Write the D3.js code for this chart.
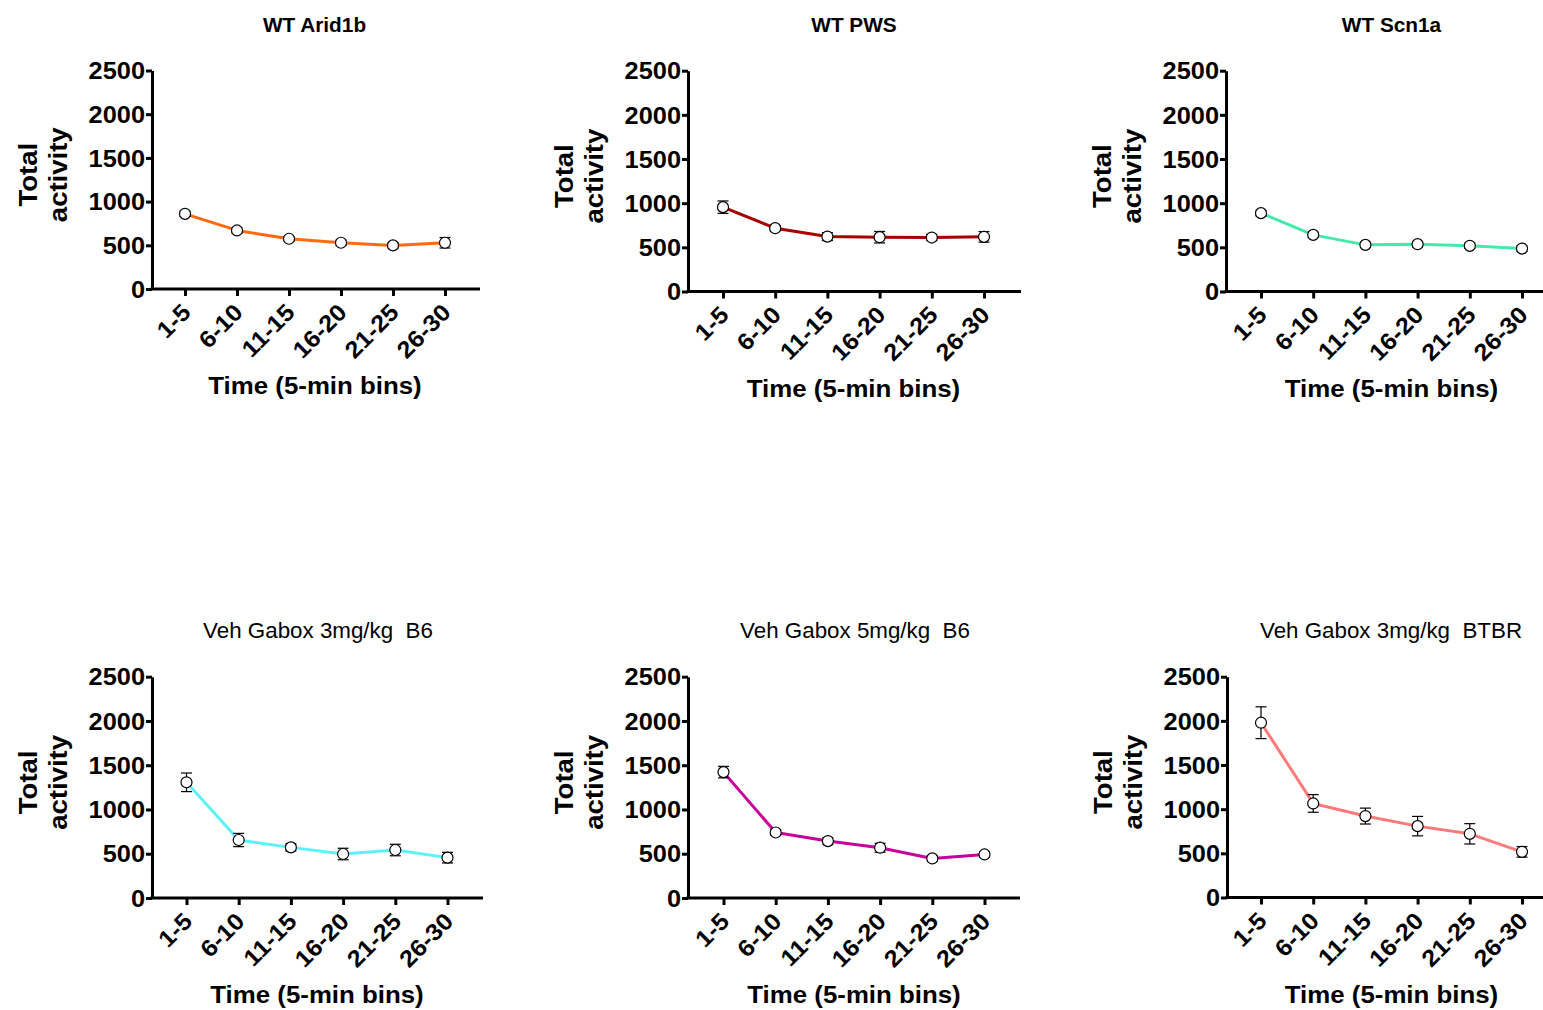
<!DOCTYPE html>
<html>
<head>
<meta charset="utf-8">
<script src="https://cdn.jsdelivr.net/npm/d3@7"></script>
<style>
  html, body { margin: 0; padding: 0; background: #fff; }
  svg { display: block; }
  text { font-family: "Liberation Sans", Arial, Helvetica, sans-serif; white-space: pre; }
</style>
</head>
<body>
<svg id="chart" width="1543" height="1010"></svg>
<script>
// ---- data ----
const categories = ["1-5", "6-10", "11-15", "16-20", "21-25", "26-30"];
const yTickValues = [0, 500, 1000, 1500, 2000, 2500];
const panelTitles = ["WT Arid1b", "WT PWS", "WT Scn1a",
  "Veh Gabox 3mg/kg  B6", "Veh Gabox 5mg/kg  B6", "Veh Gabox 3mg/kg  BTBR"];
const yLabelLines = ["Total", "activity"];
const xLabel = "Time (5-min bins)";

const arid1bMean = [860, 670, 575, 529, 499, 529];
const arid1bSem  = [30, 30, 25, 30, 30, 60];
const pwsMean    = [955, 717, 622, 615, 611, 619];
const pwsSem     = [70, 30, 45, 65, 35, 60];
const scn1aMean  = [887, 641, 528, 536, 517, 486];
const scn1aSem   = [30, 30, 30, 30, 30, 30];
const b6Gabox3Mean = [1307, 655, 572, 497, 542, 456];
const b6Gabox3Sem  = [105, 75, 40, 65, 65, 60];
const b6Gabox5Mean = [1422, 740, 643, 568, 447, 492];
const b6Gabox5Sem  = [65, 30, 40, 50, 30, 30];
const btbrGabox3Mean = [1979, 1065, 922, 808, 721, 517];
const btbrGabox3Sem  = [180, 100, 90, 110, 115, 60];

const seriesMeans = [arid1bMean, pwsMean, scn1aMean, b6Gabox3Mean, b6Gabox5Mean, btbrGabox3Mean];
const seriesSems  = [arid1bSem, pwsSem, scn1aSem, b6Gabox3Sem, b6Gabox5Sem, btbrGabox3Sem];
const seriesColors = ["#ff6a10", "#a80000", "#44eaaa", "#5cf2f8", "#c8009c", "#ff7a7a"];

// ---- layout (pixel geometry of each panel) ----
const layout = [
  {axisX: 152,  xFirst: 185,   xLast: 445,   xEnd: 480,  y0: 289,   yTop: 70.5, titleX: 314.5, titleY: 32, bold: true},
  {axisX: 688,  xFirst: 723,   xLast: 984,   xEnd: 1021, y0: 291.5, yTop: 70.7, titleX: 854,   titleY: 32, bold: true},
  {axisX: 1226, xFirst: 1261,  xLast: 1522,  xEnd: 1560, y0: 291.5, yTop: 70.7, titleX: 1391.5,titleY: 32, bold: true},
  {axisX: 152,  xFirst: 186.5, xLast: 447.5, xEnd: 483,  y0: 898,   yTop: 676.7, titleX: 318,  titleY: 638, bold: false},
  {axisX: 688,  xFirst: 723.5, xLast: 984.5, xEnd: 1020, y0: 898,   yTop: 676.7, titleX: 855,  titleY: 638, bold: false},
  {axisX: 1227, xFirst: 1261,  xLast: 1522,  xEnd: 1560, y0: 897.5, yTop: 676.7, titleX: 1391, titleY: 638, bold: false}
];

const SX = 1.08;           // horizontal stretch of axis text
const axisFont = 23.5;
const svg = d3.select("#chart");

layout.forEach((L, i) => {
  const g = svg.append("g");
  const x = d3.scalePoint().domain(categories).range([L.xFirst, L.xLast]);
  const y = d3.scaleLinear().domain([0, 2500]).range([L.y0, L.yTop]);
  const means = seriesMeans[i], sems = seriesSems[i];
  const pts = categories.map((c, k) => ({c, m: means[k], s: sems[k]}));

  // title
  g.append("text")
    .attr("transform", `translate(${L.titleX},${L.titleY}) scale(1.04,1)`)
    .attr("text-anchor", "middle")
    .attr("font-size", L.bold ? 20 : 21.5)
    .attr("font-weight", L.bold ? "bold" : "normal")
    .attr("fill", "#000")
    .text(panelTitles[i]);

  // y axis
  const yAxis = d3.axisLeft(y).tickValues(yTickValues).tickSize(6).tickSizeOuter(0).tickFormat(d3.format("d"));
  const ya = g.append("g").attr("transform", `translate(${L.axisX},0)`).call(yAxis);
  ya.select(".domain").attr("stroke", "#000").attr("stroke-width", 3);
  ya.selectAll(".tick line").attr("stroke", "#000").attr("stroke-width", 3);
  ya.selectAll(".tick text")
    .attr("x", 0).attr("dy", "0.35em")
    .attr("transform", `translate(-7,0) scale(${SX},1)`)
    .attr("font-size", axisFont).attr("font-weight", "bold")
    .attr("font-family", '"Liberation Sans", Arial, sans-serif')
    .attr("fill", "#000");

  // x axis
  const xAxis = d3.axisBottom(x).tickSize(7).tickSizeOuter(0);
  const xa = g.append("g").attr("transform", `translate(0,${L.y0})`).call(xAxis);
  xa.select(".domain").remove();
  xa.append("line").attr("x1", L.axisX - 1.5).attr("x2", L.xEnd).attr("y1", 0).attr("y2", 0)
    .attr("stroke", "#000").attr("stroke-width", 3);
  xa.selectAll(".tick line").attr("stroke", "#000").attr("stroke-width", 3);
  xa.selectAll(".tick text")
    .attr("x", 0).attr("y", 0).attr("dy", "0.35em")
    .attr("text-anchor", "end")
    .attr("transform", `translate(1,19) rotate(-45) scale(${SX},1)`)
    .attr("font-size", axisFont).attr("font-weight", "bold")
    .attr("font-family", '"Liberation Sans", Arial, sans-serif')
    .attr("fill", "#000");

  // x label
  g.append("text")
    .attr("transform", `translate(${(L.xFirst + L.xLast) / 2},${L.y0 + 105}) scale(1.1,1)`)
    .attr("text-anchor", "middle")
    .attr("font-size", axisFont).attr("font-weight", "bold")
    .attr("fill", "#000")
    .text(xLabel);

  // y label (two lines, rotated)
  const yc = (L.y0 + L.yTop) / 2 - 5;
  const yl = g.append("text")
    .attr("transform", `translate(${L.axisX - 115},${yc}) rotate(-90) scale(${SX},1)`)
    .attr("text-anchor", "middle")
    .attr("font-size", 25.5).attr("font-weight", "bold")
    .attr("fill", "#000");
  yLabelLines.forEach((t, k) => {
    yl.append("tspan").attr("x", 0).attr("y", k * 30).text(t);
  });

  // line
  const line = d3.line().x(d => x(d.c)).y(d => y(d.m));
  g.append("path").datum(pts).attr("d", line)
    .attr("fill", "none").attr("stroke", seriesColors[i]).attr("stroke-width", 3)
    .attr("stroke-linejoin", "round");

  // error bars
  const eb = g.append("g").attr("stroke", "#000").attr("stroke-width", 1.2);
  pts.forEach(d => {
    const cx = x(d.c);
    eb.append("line").attr("x1", cx).attr("x2", cx).attr("y1", y(d.m - d.s)).attr("y2", y(d.m + d.s));
    [d.m - d.s, d.m + d.s].forEach(v => {
      eb.append("line").attr("x1", cx - 5.5).attr("x2", cx + 5.5).attr("y1", y(v)).attr("y2", y(v));
    });
  });

  // markers
  g.selectAll("circle.pt").data(pts).join("circle")
    .attr("class", "pt")
    .attr("cx", d => x(d.c)).attr("cy", d => y(d.m)).attr("r", 5.5)
    .attr("fill", "#fff").attr("stroke", "#000").attr("stroke-width", 1.2);
});
</script>
</body>
</html>
